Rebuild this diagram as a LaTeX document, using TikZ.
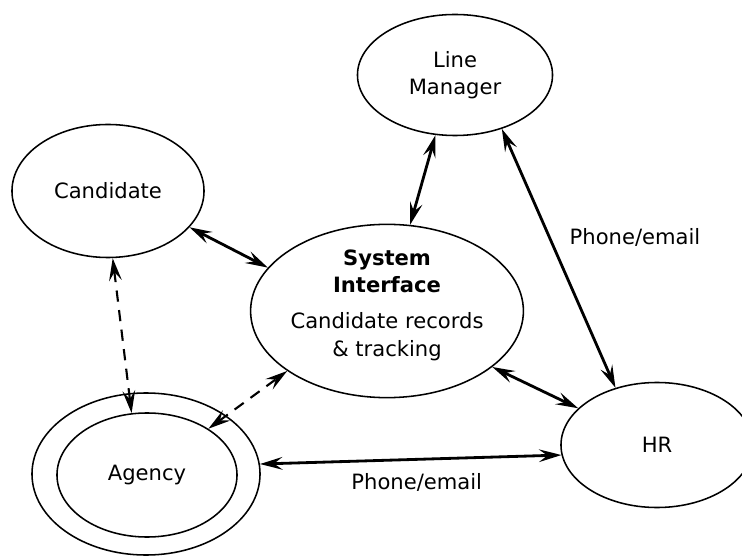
\documentclass[tikz,border=0pt]{standalone}
\usepackage{fontspec}
\setmainfont{DejaVu Sans}
\usetikzlibrary{arrows.meta, shapes.geometric}
\begin{document}
\begin{tikzpicture}[x=0.025cm, y=-0.025cm,
  party/.style={draw, ellipse, line width=1.1pt, inner sep=0pt, align=center,
    font=\fontsize{15}{19.5}\selectfont},
  link/.style={line width=2pt, {Stealth[length=16pt, width=9pt, inset=6pt]}-{Stealth[length=16pt, width=9pt, inset=6pt]}},
  loose/.style={link, line width=1.5pt, dash pattern=on 8pt off 6pt},
  lbl/.style={font=\fontsize{15}{18}\selectfont}]

\useasboundingbox (0,0) rectangle (742,556);

% Parties
\node[party, minimum width=4.875cm, minimum height=3.025cm] (lm) at (455,75) {Line\\Manager};
\node[party, minimum width=4.8cm, minimum height=3.325cm] (cand) at (108,191) {Candidate};
\node[party, minimum width=5.775cm, minimum height=4.075cm] (si) at (387,311)
  {\textbf{System}\\\textbf{Interface}\\[6pt]Candidate records\\\& tracking\\[-8pt]};
\node[party, minimum width=5.7cm, minimum height=4.05cm] (agout) at (146,474) {};
\node[party, minimum width=4.5cm, minimum height=3.1cm] (agin) at (147,475) {Agency};
\node[party, minimum width=4.8cm, minimum height=3.125cm] (hr) at (657,445) {HR};

% Links
\draw[link] (cand.-24.3) -- (si.160);
\draw[link] (lm.-108.7) -- (si.75.8);
\draw[link] (lm.-49.5) -- (hr.126.9) node[lbl, pos=0.42, right=10pt] (ph1) {Phone/email};
\draw[link] (si.-28.7) -- (hr.155.8);
\draw[link] (agout.5.4) -- (hr.-174.6) node[lbl, pos=0.52, below=6pt] (ph2) {Phone/email};
\draw[loose] (cand.-86) -- (agin.104.5);
\draw[loose] (agin.37.6) -- (si.-149.5);

\end{tikzpicture}
\end{document}
